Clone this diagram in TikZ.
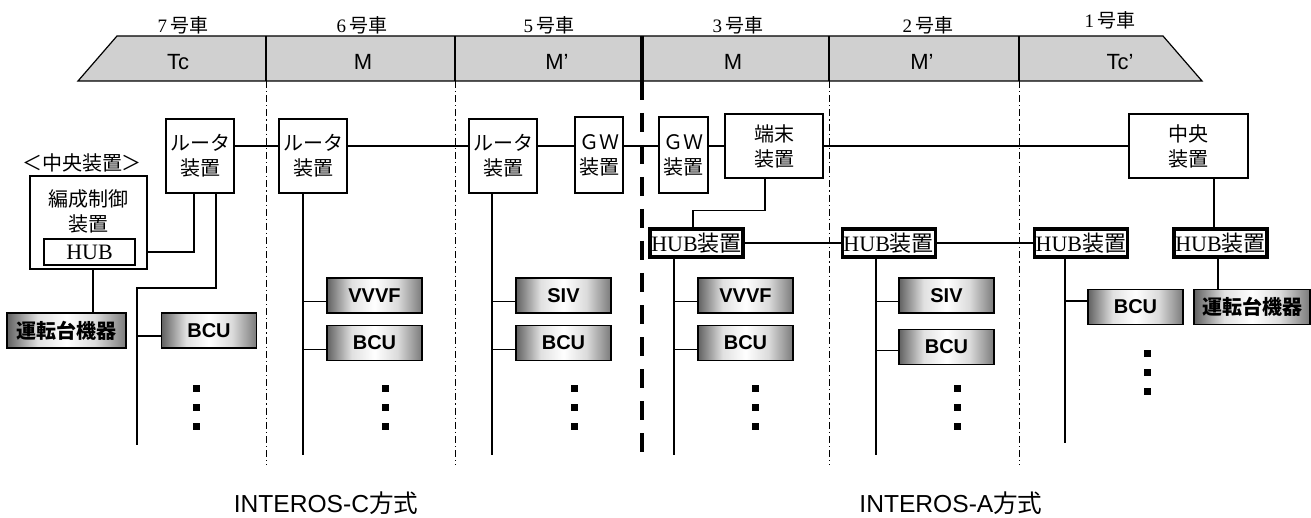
\documentclass[tikz,border=0pt]{standalone}
\usepackage{fontspec}
\setmainfont{Liberation Serif}
\setsansfont{Liberation Sans}
\newfontfamily\jp{Noto Sans CJK JP}
\usepackage{tikz}
\usetikzlibrary{positioning}
\definecolor{bodygray}{HTML}{D0D0D0}
\pgfdeclarehorizontalshading{unitshade}{100bp}{color(0bp)=(black!62); color(25bp)=(black!62);
  color(38bp)=(black!12); color(50bp)=(white); color(62bp)=(black!14); color(75bp)=(black!52);
  color(100bp)=(black!52)}

\begin{document}
\begin{tikzpicture}[
  x=0.5pt, y=-0.5pt,
  every node/.style={inner sep=0pt},
  dev/.style={rectangle, draw, line width=0.7pt, align=center,
              font=\jp\fontsize{10}{12.5}\selectfont},
  hubbox/.style={rectangle, draw, line width=1.6pt, minimum width=46.5pt,
                 minimum height=14pt, font=\fontsize{11}{12}\selectfont},
  unit/.style={rectangle, draw, line width=0.8pt, shading=unitshade,
               minimum width=47.5pt, minimum height=17.5pt,
               font=\sffamily\bfseries\fontsize{10}{12}\selectfont},
  wire/.style={line width=0.6pt},
  carsep/.style={line width=0.5pt, dash pattern=on 3.5pt off 1.5pt on 0.6pt off 1.5pt},
  carno/.style={font=\fontsize{9.5}{11}\selectfont},
  cartype/.style={font=\sffamily\fontsize{11}{12}\selectfont}
]
\useasboundingbox (0,0) rectangle (1311,518);

% ---- Train body ----
\draw[line width=0.6pt, fill=bodygray] (78,81) -- (117,36) -- (1163,36) -- (1202,81) -- cycle;
\foreach \x in {266,455,829,1019} \draw[line width=0.6pt] (\x,36) -- (\x,81);
\foreach \x in {266,455,829,1019} \draw[carsep] (\x,81) -- (\x,465);
\draw[line width=2pt] (642,36) -- (642,81);
\draw[line width=2pt, dash pattern=on 9.5pt off 6.5pt] (642,81) -- (642,465);

\node[carno] (car7) at (183,25) {7\,{\jp 号車}};
\node[carno] (car6) at (362,25) {6\,{\jp 号車}};
\node[carno] (car5) at (549,25) {5\,{\jp 号車}};
\node[carno] (car3) at (738,25) {3\,{\jp 号車}};
\node[carno] (car2) at (928,25) {2\,{\jp 号車}};
\node[carno] (car1) at (1110,20) {1\,{\jp 号車}};

\node[cartype] (type7) at (178,62) {Tc};
\node[cartype] (type6) at (363,62) {M};
\node[cartype] (type5) at (557,62) {M’};
\node[cartype] (type3) at (733,62) {M};
\node[cartype] (type2) at (922,62) {M’};
\node[cartype] (type1) at (1120,62) {Tc’};

% ---- Backbone devices ----
\node[dev, minimum width=34pt, minimum height=37pt] (rt7) at (200,156) {ルータ\\装置};
\node[dev, minimum width=34pt, minimum height=37pt] (rt6) at (313,156) {ルータ\\装置};
\node[dev, minimum width=34pt, minimum height=37pt] (rt5) at (503,156) {ルータ\\装置};
\node[dev, minimum width=24pt, minimum height=38pt] (gw5) at (599,155) {ＧＷ\\装置};
\node[dev, minimum width=24.5pt, minimum height=38pt] (gw3) at (683.5,155) {ＧＷ\\装置};
\node[dev, minimum width=49pt, minimum height=32pt] (term3) at (774,146) {端末\\装置};
\node[dev, minimum width=59.5pt, minimum height=32pt] (ctr1) at (1188.5,146) {中央\\装置};

\coordinate (bb) at (0,146);
\foreach \a/\b in {rt7/rt6, rt6/rt5, rt5/gw5, gw5/gw3, gw3/term3, term3/ctr1}
  \draw[wire] (\a.east |- bb) -- (\b.west |- bb);

% ---- Central unit of car 7 ----
\node[dev, draw=none] (ctrlab) at (82,163) {＜中央装置＞};
\node[dev, minimum width=58.5pt, minimum height=46.5pt] (ctl7) at (88.5,222.5) {};
\node[dev, draw=none] (ctl7txt) at (88.5,211) {編成制御\\装置};
\node[draw, line width=0.7pt, minimum width=45.5pt, minimum height=13pt,
      font=\fontsize{11}{12}\selectfont] (hub7) at (89.5,252) {HUB};

% ---- HUB devices ----
\node[hubbox] (hub3) at (696.5,243) {HUB{\jp 装置}};
\node[hubbox, right=48pt of hub3] (hub2) {HUB{\jp 装置}};
\node[hubbox, right=48pt of hub2] (hub1) {HUB{\jp 装置}};
\node[hubbox] (hubc) at (1220.5,243) {HUB{\jp 装置}};
\draw[wire] (hub3) -- (hub2);
\draw[wire] (hub2) -- (hub1);

% ---- Terminal units ----
\node[unit, minimum width=59.5pt] (drv7) at (66.5,330.5) {{\jp 運転台機器}};
\node[unit] (bcu7) at (209,330.5) {BCU};
\node[unit] (vvvf6) at (374.5,295.5) {VVVF};
\node[unit, below=5.5pt of vvvf6] (bcu6) {BCU};
\node[unit] (siv5) at (563.5,295.5) {SIV};
\node[unit, below=5.5pt of siv5] (bcu5) {BCU};
\node[unit] (vvvf3) at (745.5,295.5) {VVVF};
\node[unit, below=5.5pt of vvvf3] (bcu3) {BCU};
\node[unit] (siv2) at (946.5,295.5) {SIV};
\node[unit, below=7.5pt of siv2] (bcu2) {BCU};
\node[unit] (bcu1) at (1135.5,307) {BCU};
\node[unit, minimum width=58pt] (drv1) at (1252,307) {{\jp 運転台機器}};

% ---- Bus lines ----
\coordinate (bend7) at (137,288);
\coordinate (bus7) at (137,445);
\coordinate (bus6) at (303,455);
\coordinate (bus5) at (492,455);
\coordinate (bus3) at (674,455);
\coordinate (bus2) at (876,455);
\coordinate (bus1) at (1065,443);

\draw[wire] ([xshift=-3pt]rt7.south) |- (ctl7.east |- hub7);
\draw[wire] ([xshift=8pt]rt7.south) |- (bend7) -- (bus7);
\draw[wire] ([xshift=2.25pt]ctl7.south) -- ([xshift=2.25pt]ctl7.south |- drv7.north);
\draw[wire] (rt6.south -| bus6) -- (bus6);
\draw[wire] (rt5.south -| bus5) -- (bus5);
\draw[wire] ([xshift=-4.5pt]term3.south) -- ++(0,32) -| ([xshift=-1.75pt]hub3.north);
\draw[wire] (hub3.south -| bus3) -- (bus3);
\draw[wire] (hub2.south -| bus2) -- (bus2);
\draw[wire] (hub1.south -| bus1) -- (bus1);
\draw[wire] ([xshift=-3.25pt]hubc.north) -- ([xshift=-3.25pt]hubc.north |- ctr1.south);
\draw[wire] ([xshift=-1.25pt]hubc.south) -- ([xshift=-1.25pt]hubc.south |- drv1.north);

\foreach \b/\u/\d in {bus7/bcu7/-2.75pt, bus6/vvvf6/-3pt, bus6/bcu6/-3pt, bus5/siv5/-3pt,
    bus5/bcu5/-3pt, bus3/vvvf3/-3pt, bus3/bcu3/-3pt, bus2/siv2/-3pt, bus2/bcu2/-1.75pt,
    bus1/bcu1/3pt}
  \draw[wire] ([yshift=\d]\u.west) -| (\b);

% ---- Continuation marks ----
\foreach \x/\y in {196/388, 385/388, 574/388, 755.5/388, 957/388, 1147/353}
  \foreach \k in {0,1,2}
    \fill (\x-3.5,\y-3.5+19*\k) rectangle ++(7,7);

% ---- System names ----
\node[font=\sffamily\fontsize{12.3}{14}\selectfont] (sysC) at (326,503) {INTEROS-C{\jp 方式}};
\node[font=\sffamily\fontsize{12.3}{14}\selectfont] (sysA) at (951,503) {INTEROS-A{\jp 方式}};

\end{tikzpicture}
\end{document}
